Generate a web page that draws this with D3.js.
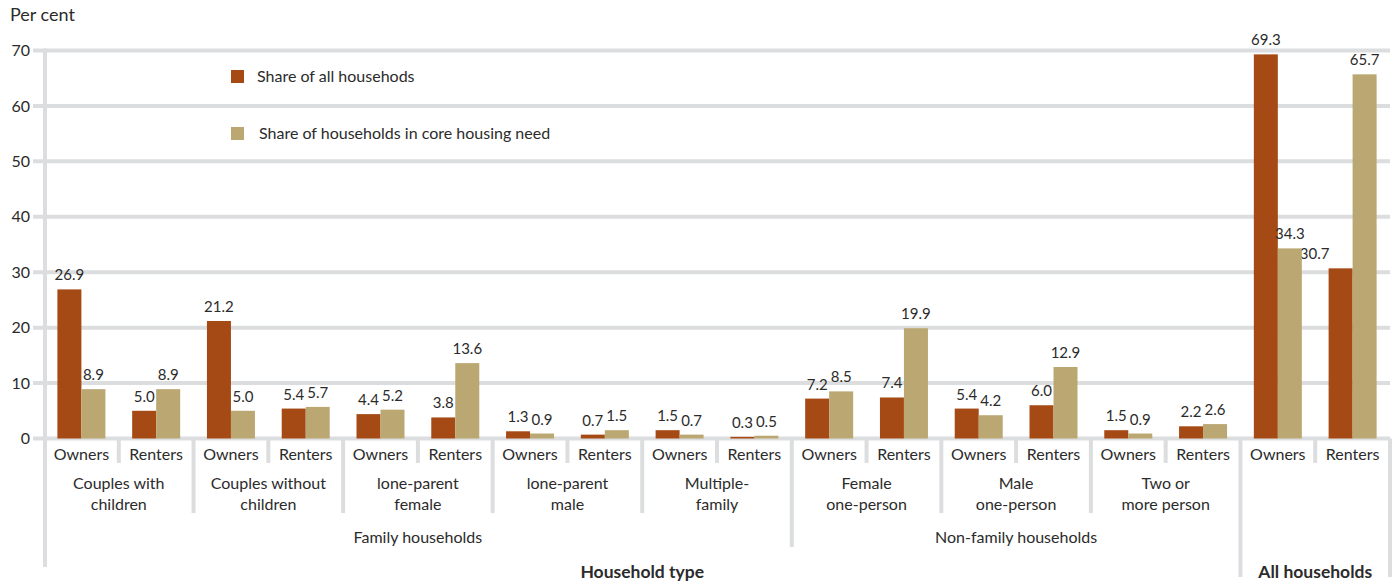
<!DOCTYPE html>
<html>
<head>
<meta charset="utf-8">
<script src="https://cdn.jsdelivr.net/npm/d3@7"></script>
<style>
  html, body { margin: 0; padding: 0; background: #fff; }
  svg { display: block; font-family: "Lato", "Open Sans", sans-serif; }
</style>
</head>
<body>
<svg id="chart" width="1395" height="584"></svg>
<script>
// Household subgroups (tenure within type), left to right
const tenures = ["Owners", "Renters", "Owners", "Renters", "Owners", "Renters",
  "Owners", "Renters", "Owners", "Renters", "Owners", "Renters",
  "Owners", "Renters", "Owners", "Renters", "Owners", "Renters"];
const householdTypes = [
  ["Couples with", "children"],
  ["Couples without", "children"],
  ["lone-parent", "female"],
  ["lone-parent", "male"],
  ["Multiple-", "family"],
  ["Female", "one-person"],
  ["Male", "one-person"],
  ["Two or", "more person"]
];
const familyGroups = ["Family households", "Non-family households"];
const familyGroupSpans = [[0, 5], [5, 8]]; // household-type index ranges
const shareAll = [26.9, 5.0, 21.2, 5.4, 4.4, 3.8, 1.3, 0.7, 1.5, 0.3,
  7.2, 7.4, 5.4, 6.0, 1.5, 2.2, 69.3, 30.7];
const shareCoreNeed = [8.9, 8.9, 5.0, 5.7, 5.2, 13.6, 0.9, 1.5, 0.7, 0.5,
  8.5, 19.9, 4.2, 12.9, 0.9, 2.6, 34.3, 65.7];
const seriesNames = ["Share of all househods", "Share of households in core housing need"];
const yTicks = [0, 10, 20, 30, 40, 50, 60, 70];

const colors = ["#a54a14", "#bba772"];
const gridColor = "#dcdddf";
const textColor = "#2b2b2b";
const fs = 16;

const svg = d3.select("#chart");
const x0 = 44, x1 = 1390;
const y = d3.scaleLinear().domain([0, 70]).range([438.5, 50.5]);
const x = d3.scaleBand().domain(d3.range(tenures.length)).range([x0, x1]).padding(0);
const barW = 24;

// Gridlines and tick labels
const yAxis = d3.axisLeft(y).tickValues(yTicks).tickSize(0).tickPadding(0);
const gAxis = svg.append("g").attr("transform", "translate(30,0)").call(yAxis);
gAxis.select(".domain").remove();
gAxis.selectAll("text")
  .attr("font-size", fs).attr("fill", textColor).attr("dx", 0).attr("dy", "0.32em")
  .attr("font-family", "Lato, 'Open Sans', sans-serif");

svg.append("g").selectAll("line").data(yTicks).join("line")
  .attr("x1", 33).attr("x2", x1)
  .attr("y1", d => y(d)).attr("y2", d => y(d))
  .attr("stroke", gridColor).attr("stroke-width", 4);

// Axis separators below the baseline
const sep = svg.append("g").attr("stroke", gridColor).attr("stroke-width", 4);
const yBase = y(0);
// left axis
sep.append("line").attr("x1", x0 + 1).attr("x2", x0 + 1).attr("y1", y(70) - 2).attr("y2", 567);
// right edge
sep.append("line").attr("x1", x1).attr("x2", x1).attr("y1", yBase).attr("y2", 577);
// owners/renters dividers
d3.range(1, tenures.length, 2).forEach(i => {
  const xx = x(i);
  sep.append("line").attr("x1", xx).attr("x2", xx).attr("y1", yBase).attr("y2", 463);
});
// household type dividers
d3.range(2, 16, 2).forEach(i => {
  const xx = x(i);
  const yEnd = (i === 10) ? 547 : 513;
  sep.append("line").attr("x1", xx).attr("x2", xx).attr("y1", yBase).attr("y2", yEnd);
});
// household type vs all households
sep.append("line").attr("x1", x(16)).attr("x2", x(16)).attr("y1", yBase).attr("y2", 577);

// Bars
const bars = svg.append("g");
const cx = i => x(i) + x.bandwidth() / 2;
[shareAll, shareCoreNeed].forEach((vals, s) => {
  bars.selectAll(null).data(vals).join("rect")
    .attr("x", (d, i) => cx(i) - barW + s * barW)
    .attr("width", barW)
    .attr("y", d => y(d))
    .attr("height", d => y(0) - y(d))
    .attr("fill", colors[s]);
  bars.selectAll(null).data(vals).join("text")
    .attr("x", (d, i) => {
      let xx = cx(i) - barW / 2 + s * barW;
      // nudge a first-series label left when the second bar towers over it
      if (s === 0 && shareCoreNeed[i] - d > 20) xx -= 26;
      return xx;
    })
    .attr("y", d => y(d) - 9)
    .attr("text-anchor", "middle")
    .attr("font-size", 15).attr("fill", textColor)
    .text(d => d.toFixed(1));
});

// Category labels
const labels = svg.append("g").attr("font-size", fs).attr("fill", textColor).attr("text-anchor", "middle");
tenures.forEach((t, i) => {
  labels.append("text").attr("x", cx(i)).attr("y", 460).text(t);
});
householdTypes.forEach((lines, k) => {
  const mid = x(2 * k) + x.bandwidth();
  lines.forEach((l, j) => {
    labels.append("text").attr("x", mid).attr("y", 489 + j * 21).text(l);
  });
});
familyGroups.forEach((g, k) => {
  const [a, b] = familyGroupSpans[k];
  const mid = (x(2 * a) + x(2 * b)) / 2;
  labels.append("text").attr("x", mid).attr("y", 543).text(g);
});
labels.append("text").attr("x", (x0 + x(16)) / 2).attr("y", 578)
  .attr("font-weight", "bold").attr("font-size", 17.5).text("Household type");
labels.append("text").attr("x", (x(16) + x1) / 2).attr("y", 578)
  .attr("font-weight", "bold").attr("font-size", 17.5).text("All households");

// Y axis title
svg.append("text").attr("x", 10).attr("y", 21).attr("font-size", 18)
  .attr("fill", textColor).text("Per cent");

// Legend
const legend = svg.append("g");
seriesNames.forEach((n, i) => {
  const ly = 70 + i * 57;
  legend.append("rect").attr("x", 231).attr("y", ly).attr("width", 13).attr("height", 13).attr("fill", colors[i]);
  legend.append("text").attr("x", 257 + i * 2).attr("y", ly + 12)
    .attr("font-size", fs).attr("fill", textColor).text(n);
});
</script>
</body>
</html>
